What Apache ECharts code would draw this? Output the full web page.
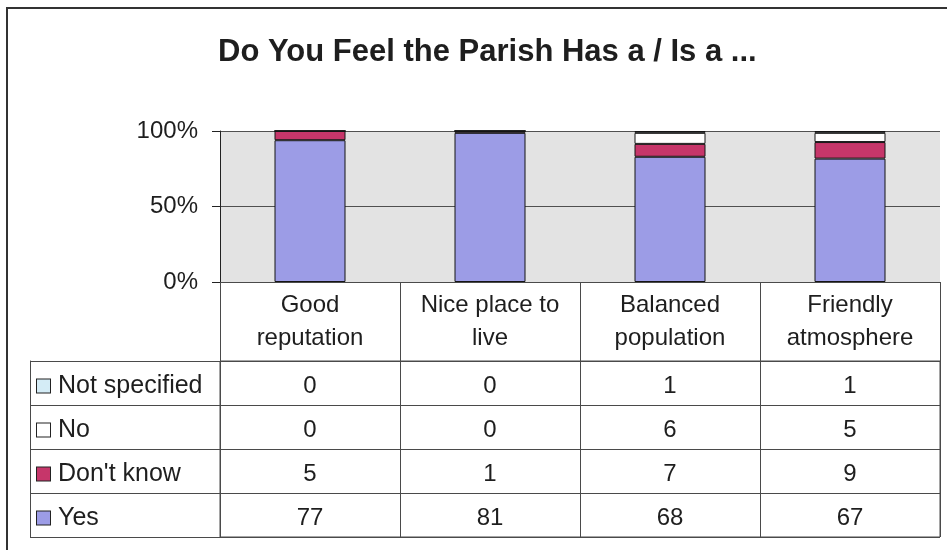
<!DOCTYPE html>
<html>
<head>
<meta charset="utf-8">
<script src="https://cdn.jsdelivr.net/npm/echarts@6/dist/echarts.min.js"></script>
<style>
html,body{margin:0;padding:0;background:#fff;}
#chart{width:947px;height:550px;}
</style>
</head>
<body>
<div id="chart"></div>
<script>
// ---- data ----
const categories = ['Good reputation', 'Nice place to live', 'Balanced population', 'Friendly atmosphere'];
const categoryLabels = ['Good\nreputation', 'Nice place to\nlive', 'Balanced\npopulation', 'Friendly\natmosphere'];
const yes = [77, 81, 68, 67];
const dontKnow = [5, 1, 7, 9];
const no = [0, 0, 6, 5];
const notSpecified = [0, 0, 1, 1];
const rowNames = ['Not specified', 'No', "Don't know", 'Yes'];
const yTickValues = [0, 50, 100];
const titleText = 'Do You Feel the Parish Has a / Is a ...';

// ---- styling ----
const FONT = "'Liberation Sans', Arial, sans-serif";
const TXT = '#1e1e1e';
const LINE = '#4a4a4a';
const colors = {
  'Yes': '#9c9ce6',
  "Don't know": '#c6366a',
  'No': '#ffffff',
  'Not specified': '#d4ecf6'
};
const rowValues = {
  'Not specified': notSpecified,
  'No': no,
  "Don't know": dontKnow,
  'Yes': yes
};

const totals = categories.map((_, i) => yes[i] + dontKnow[i] + no[i] + notSpecified[i]);
const pct = arr => arr.map((v, i) => v / totals[i] * 100);

const stackOrder = ['Yes', "Don't know", 'No', 'Not specified'];
const barSeries = stackOrder.map(name => ({
  name: name,
  type: 'bar',
  stack: 'total',
  xAxisIndex: 0,
  yAxisIndex: 0,
  barWidth: 71,
  data: pct(rowValues[name]),
  itemStyle: { color: colors[name], borderColor: '#151515', borderWidth: 1 },
  emphasis: { disabled: true },
  silent: true
}));

const tableData = [];
rowNames.forEach((rn, r) => {
  categories.forEach((c, ci) => {
    tableData.push([ci, r, rowValues[rn][ci]]);
  });
});

const rich = {};
rowNames.forEach((rn, i) => {
  rich['sq' + i] = {
    width: 13, height: 13, backgroundColor: colors[rn],
    borderColor: '#222', borderWidth: 1
  };
});
rich.t = { fontSize: 25, fontFamily: FONT, color: TXT, padding: [0, 0, 0, 8] };

const chart = echarts.init(document.getElementById('chart'), null, { renderer: 'canvas' });
chart.setOption({
  animation: false,
  backgroundColor: '#ffffff',
  title: {
    text: titleText,
    left: 213,
    top: 32,
    textStyle: { fontFamily: FONT, fontSize: 31, fontWeight: 'bold', color: TXT }
  },
  graphic: [{
    type: 'rect',
    shape: { x: 7, y: 8, width: 980, height: 600 },
    style: { fill: 'none', stroke: '#333', lineWidth: 2 },
    silent: true
  }],
  grid: [
    { left: 220, right: 7, top: 131, bottom: 268, show: true, backgroundColor: '#e3e3e3', borderWidth: 0 },
    { left: 220, right: 7, top: 361, bottom: 13, show: true, backgroundColor: 'transparent', borderColor: LINE, borderWidth: 1 }
  ],
  xAxis: [
    {
      type: 'category', gridIndex: 0, data: categories,
      axisLine: { show: true, lineStyle: { color: LINE, width: 1 } },
      axisTick: { show: true, length: 79, lineStyle: { color: LINE, width: 1 } },
      axisLabel: {
        interval: 0, margin: 7, fontSize: 24, lineHeight: 33, fontFamily: FONT, color: TXT,
        formatter: (v, i) => categoryLabels[i]
      },
      splitLine: { show: false }
    },
    {
      type: 'category', gridIndex: 1, data: categories, position: 'top',
      axisLine: { show: false }, axisTick: { show: false }, axisLabel: { show: false },
      splitLine: { show: true, interval: 0, lineStyle: { color: LINE, width: 1 } }
    }
  ],
  yAxis: [
    {
      type: 'value', gridIndex: 0, min: 0, max: 100, interval: 50,
      axisLine: { show: true, lineStyle: { color: '#222', width: 1 } },
      axisTick: { show: true, length: 8, lineStyle: { color: '#222' } },
      axisLabel: { fontSize: 24, fontFamily: FONT, color: TXT, margin: 22, formatter: v => yTickValues.includes(v) ? v + '%' : '' },
      splitLine: { show: true, lineStyle: { color: '#505050', width: 1 } }
    },
    {
      type: 'category', gridIndex: 1, data: rowNames, inverse: true,
      axisLine: { show: true, lineStyle: { color: LINE, width: 1 } },
      axisTick: { show: true, length: 190, lineStyle: { color: LINE, width: 1 } },
      axisLabel: {
        interval: 0, align: 'left', margin: 183, padding: [6, 0, 0, 0],
        formatter: (v, i) => '{sq' + i + '|}{t|' + v + '}',
        rich: rich
      },
      splitLine: { show: true, interval: 0, lineStyle: { color: LINE, width: 1 } }
    },
    {
      type: 'category', gridIndex: 1, data: rowNames, inverse: true, position: 'left', offset: 190,
      axisLine: { show: true, lineStyle: { color: LINE, width: 1 } },
      axisTick: { show: false }, axisLabel: { show: false }, splitLine: { show: false }
    }
  ],
  series: barSeries.concat([{
    type: 'scatter',
    xAxisIndex: 1,
    yAxisIndex: 1,
    symbolSize: 0,
    data: tableData,
    silent: true,
    itemStyle: { opacity: 1 },
    label: {
      show: true, position: 'inside', offset: [0, 3], fontSize: 24, fontFamily: FONT, color: TXT, opacity: 1,
      formatter: p => String(p.value[2])
    }
  }])
});
</script>
</body>
</html>
